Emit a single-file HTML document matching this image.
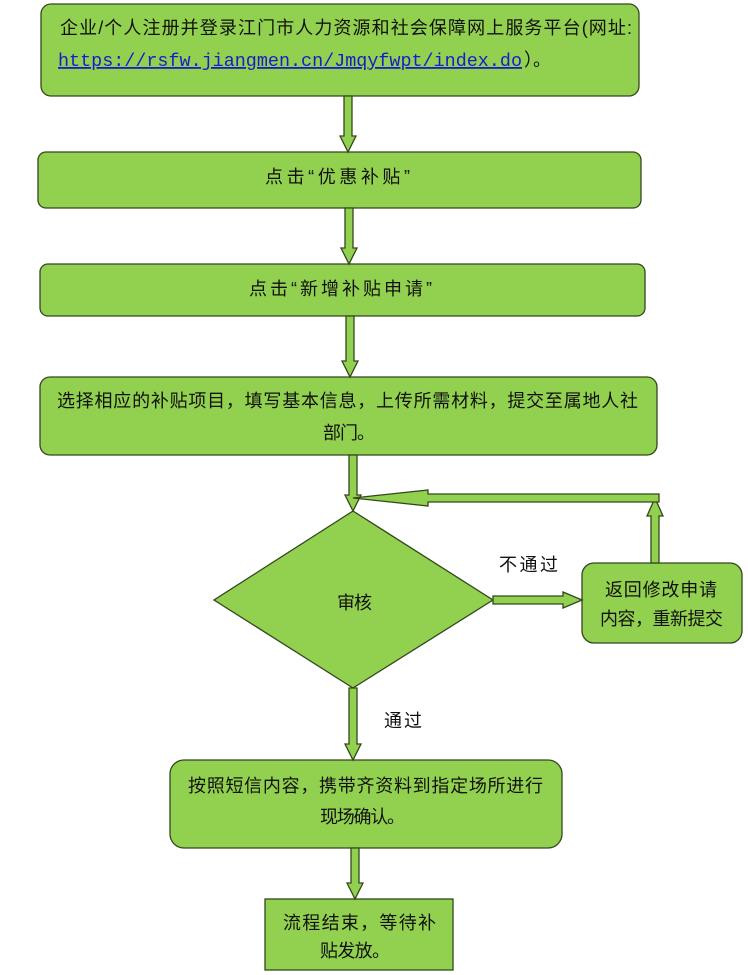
<!DOCTYPE html>
<html><head><meta charset="utf-8"><style>
html,body{margin:0;padding:0;background:#fff;width:748px;height:975px;overflow:hidden}
svg text{font-family:"Liberation Sans","Noto Sans CJK SC",sans-serif;font-size:18px;fill:#111}
.m{font-family:"Liberation Mono","Noto Sans CJK SC",monospace;font-size:18px}
</style></head><body>
<svg width="748" height="975" viewBox="0 0 748 975" xmlns="http://www.w3.org/2000/svg">
<g fill="#92d050" stroke="#33471c" stroke-width="1.3">
<rect x="41" y="4" width="598" height="92" rx="10"/>
<rect x="38" y="152" width="603" height="56" rx="8"/>
<rect x="40" y="264" width="605" height="52" rx="8"/>
<rect x="40" y="377" width="617" height="78" rx="10"/>
<polygon points="353,511 493,600 353,688 214,600"/>
<rect x="582" y="563" width="160" height="80" rx="12"/>
<rect x="170" y="760" width="392" height="88" rx="14"/>
<rect x="265" y="899" width="188" height="71"/>
<polygon points="344,96 352,96 352,136 356,136 348,152 340,136 344,136"/>
<polygon points="345,208 353,208 353,248 357,248 349,264 341,248 345,248"/>
<polygon points="346,316 354,316 354,361 358,361 350,377 342,361 346,361"/>
<polygon points="349,455 357,455 357,495 361,495 353,511 345,495 349,495"/>
<polygon points="349,688 357,688 357,744 361,744 353,760 345,744 349,744"/>
<polygon points="351,848 359,848 359,883 363,883 355,899 347,883 351,883"/>
<polygon points="493,596 563,596 563,592 582,600 563,608 563,604 493,604"/>
<polygon points="651,563 651,516 647,516 655,498 663,516 659,516 659,563"/>
<polygon points="659,494 659,502 428,502 428,506 353,498 428,490 428,494"/>
</g>
<text x="60" y="34" textLength="572" lengthAdjust="spacing">企业/个人注册并登录江门市人力资源和社会保障网上服务平台(网址:</text>
<text x="58" y="66" class="m" textLength="464" lengthAdjust="spacingAndGlyphs" style="fill:#1a1acc;text-decoration:underline">https://rsfw.jiangmen.cn/Jmqyfwpt/index.do</text>
<text x="524" y="66">）。</text>
<text x="265" y="183" textLength="145" lengthAdjust="spacing">点击“优惠补贴”</text>
<text x="249" y="295" textLength="183" lengthAdjust="spacing">点击“新增补贴申请”</text>
<text x="57" y="407" textLength="581" lengthAdjust="spacing">选择相应的补贴项目，填写基本信息，上传所需材料，提交至属地人社</text>
<text x="323" y="439" textLength="52" lengthAdjust="spacing">部门。</text>
<text x="337" y="609" textLength="35" lengthAdjust="spacing">审核</text>
<text x="499" y="571" textLength="59" lengthAdjust="spacing">不通过</text>
<text x="605" y="596" textLength="112" lengthAdjust="spacing">返回修改申请</text>
<text x="600" y="625" textLength="123" lengthAdjust="spacing">内容，重新提交</text>
<text x="384" y="727" textLength="38" lengthAdjust="spacing">通过</text>
<text x="188" y="792" textLength="355" lengthAdjust="spacing">按照短信内容，携带齐资料到指定场所进行</text>
<text x="320" y="823" textLength="85" lengthAdjust="spacing">现场确认。</text>
<text x="283" y="929" textLength="153" lengthAdjust="spacing">流程结束，等待补</text>
<text x="320" y="957" textLength="70" lengthAdjust="spacing">贴发放。</text>
</svg>
</body></html>
